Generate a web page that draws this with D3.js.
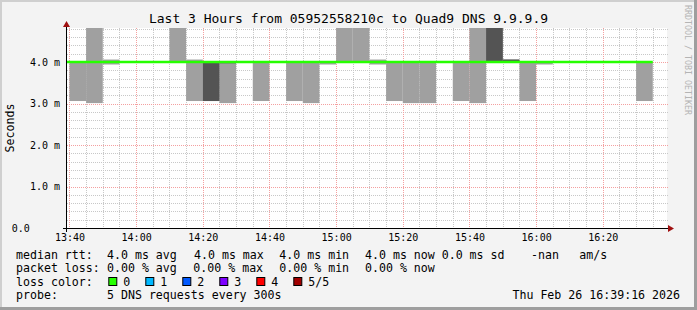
<!DOCTYPE html>
<html>
<head>
<meta charset="utf-8">
<script src="https://cdn.jsdelivr.net/npm/d3@7"></script>
<style>
    body { margin: 0; background: #f3f3f3; }
    svg text { font-family: "DejaVu Sans Mono", monospace; white-space: pre; fill: #000; }
</style>
</head>
<body>
<div id="root"></div>
<script>
// graph window (last 3 hours)
const graphStart = new Date(2026, 1, 26, 13, 39, 16)
const graphEnd = new Date(2026, 1, 26, 16, 39, 16)
const firstBucket = new Date(2026, 1, 26, 13, 35)
const stepMinutes = 5

// sorted DNS rtts per 5 min bucket, in ms (5 requests per bucket)
const pingMin    = [4, 3.06, 3.01, 3.94, 4, 4, 4, 4, 3.06, 3.06, 3.01, 4, 3.06, 4, 3.06, 3.01, 3.94, 4, 4, 3.94, 3.06, 3.01, 3.01, 4, 3.06, 3.01, 4, 4, 3.06, 3.94, 4, 4, 4, 4, 4, 3.06]
const pingLow    = [4, 4, 4, 4, 4, 4, 4, 4, 4, 3.06, 3.97, 4, 4, 4, 4, 4, 4, 4, 4, 4, 4, 4, 4, 4, 4, 4, 4, 4, 4, 4, 4, 4, 4, 4, 4, 4]
const pingMedian = [4, 4, 4, 4, 4, 4, 4, 4, 4, 4, 4, 4, 4, 4, 4, 4, 4, 4, 4, 4, 4, 4, 4, 4, 4, 4, 4, 4, 4, 4, 4, 4, 4, 4, 4, 4]
const pingHigh   = [4, 4, 4, 4, 4, 4, 4, 4, 4, 4, 4, 4, 4, 4, 4, 4, 4, 4, 4, 4, 4, 4, 4, 4, 4, 4, 5.5, 4.06, 4, 4, 4, 4, 4, 4, 4, 4]
const pingMax    = [4, 4, 5.5, 4.06, 4, 4, 4, 5.5, 4.06, 4, 4, 4, 4, 4, 4, 4, 4, 5.5, 5.5, 4.06, 4, 4, 4, 4, 4, 5.5, 5.5, 4.06, 4, 4, 4, 4, 4, 4, 4, 4]

const yTicks = [0, 1, 2, 3, 4]
const lossLabels = ['0', '1', '2', '3', '4', '5/5']
const lossColors = ['#26ff00', '#00b8ff', '#0059ff', '#7e00ff', '#ff0000', '#a00000']

const legendRtt = [['median rtt:', 16], ['4.0 ms avg', 107], ['4.0 ms max', 194], ['4.0 ms min', 279.3], ['4.0 ms now', 365], ['0.0 ms sd', 441.7], ['-nan', 531], ['am/s', 579.3]]
const legendLoss = [['packet loss:', 16], ['0.00 % avg', 107], ['0.00 % max', 193.3], ['0.00 % min', 279.3], ['0.00 % now', 365]]

const W = 697, H = 310
const plot = { left: 67, right: 667, top: 28, bottom: 228 }

const svg = d3.select('#root').append('svg')
    .attr('width', W)
    .attr('height', H)

// canvas + shaded border
svg.append('rect').attr('width', W).attr('height', H).attr('fill', '#f3f3f3')
svg.append('path').attr('d', `M1,${H} V1 H${W}`).attr('stroke', '#cfcfcf').attr('stroke-width', 2).attr('fill', 'none')
svg.append('path').attr('d', `M0,${H - 1.5} H${W - 1.5} V0`).attr('stroke', '#9e9e9e').attr('stroke-width', 3).attr('fill', 'none')

const x = d3.scaleTime().domain([graphStart, graphEnd]).range([plot.left, plot.right])
const y = d3.scaleLinear().domain([0, 4.82]).range([plot.bottom, plot.top])

svg.append('rect')
    .attr('x', plot.left).attr('y', plot.top)
    .attr('width', plot.right - plot.left).attr('height', plot.bottom - plot.top)
    .attr('fill', '#fff')

svg.append('clipPath').attr('id', 'clip')
    .append('rect')
    .attr('x', plot.left).attr('y', plot.top)
    .attr('width', plot.right - plot.left + 1).attr('height', plot.bottom - plot.top)

// grid
const grid = svg.append('g').attr('shape-rendering', 'crispEdges')
const minorY = d3.range(0.2, 4.81, 0.2).filter(v => Math.abs(v - Math.round(v)) > 0.01)
grid.selectAll('.hminor').data(minorY).enter().append('line')
    .attr('x1', plot.left).attr('x2', plot.right + 1)
    .attr('y1', d => Math.round(y(d)) + 0.5).attr('y2', d => Math.round(y(d)) + 0.5)
    .attr('stroke', '#c8c8c8').attr('stroke-dasharray', '1,1')
const minorX = x.ticks(d3.timeMinute.every(5)).filter(d => d.getMinutes() % 20 !== 0)
grid.selectAll('.vminor').data(minorX).enter().append('line')
    .attr('x1', d => Math.round(x(d)) + 0.5).attr('x2', d => Math.round(x(d)) + 0.5)
    .attr('y1', plot.top).attr('y2', plot.bottom)
    .attr('stroke', '#c8c8c8').attr('stroke-dasharray', '1,1')
grid.selectAll('.hmajor').data(yTicks.slice(1)).enter().append('line')
    .attr('x1', plot.left).attr('x2', plot.right + 1)
    .attr('y1', d => Math.round(y(d)) + 0.5).attr('y2', d => Math.round(y(d)) + 0.5)
    .attr('stroke', '#f4a0a0').attr('stroke-dasharray', '1,1')
const majorX = x.ticks(d3.timeMinute.every(20))
grid.selectAll('.vmajor').data(majorX).enter().append('line')
    .attr('x1', d => Math.round(x(d)) + 0.5).attr('x2', d => Math.round(x(d)) + 0.5)
    .attr('y1', plot.top).attr('y2', plot.bottom)
    .attr('stroke', '#f4a0a0').attr('stroke-dasharray', '1,1')

// buckets
const buckets = pingMin.map((v, i) => ({
    t0: d3.timeMinute.offset(firstBucket, i * stepMinutes),
    t1: d3.timeMinute.offset(firstBucket, (i + 1) * stepMinutes),
    min: v, low: pingLow[i], med: pingMedian[i], high: pingHigh[i], max: pingMax[i]
}))

const smoke = svg.append('g').attr('clip-path', 'url(#clip)')
smoke.selectAll('.outer').data(buckets.filter(d => d.max > d.min)).enter().append('rect')
    .attr('x', d => x(d.t0)).attr('width', d => x(d.t1) - x(d.t0))
    .attr('y', d => y(d.max)).attr('height', d => y(d.min) - y(d.max))
    .attr('fill', '#a0a0a0')
smoke.selectAll('.inner').data(buckets.filter(d => d.high > d.low)).enter().append('rect')
    .attr('x', d => x(d.t0)).attr('width', d => x(d.t1) - x(d.t0))
    .attr('y', d => y(d.high)).attr('height', d => y(d.low) - y(d.high))
    .attr('fill', '#545454')

// median line (loss 0 -> green)
const medPts = buckets.map(d => [d.t0, d.med])
medPts.push([buckets[buckets.length - 1].t1, buckets[buckets.length - 1].med])
smoke.append('path')
    .attr('d', d3.line().x(d => x(d[0])).y(d => y(d[1])).curve(d3.curveStepAfter)(medPts))
    .attr('fill', 'none').attr('stroke', lossColors[0]).attr('stroke-width', 2.6)

// axes
svg.append('line').attr('x1', plot.left - 4).attr('x2', plot.right + 2)
    .attr('y1', plot.bottom + 0.5).attr('y2', plot.bottom + 0.5)
    .attr('stroke', '#000').attr('shape-rendering', 'crispEdges')
svg.append('line').attr('x1', plot.left - 0.5).attr('x2', plot.left - 0.5)
    .attr('y1', plot.bottom + 4).attr('y2', plot.top - 2)
    .attr('stroke', '#000').attr('shape-rendering', 'crispEdges')
svg.append('path')
    .attr('d', `M${plot.right + 1},${plot.bottom - 3} L${plot.right + 7},${plot.bottom + 0.5} L${plot.right + 1},${plot.bottom + 4} Z`)
    .attr('fill', '#a01010')
svg.append('path')
    .attr('d', `M${plot.left - 4},${plot.top - 1} L${plot.left - 0.5},${plot.top - 7} L${plot.left + 3},${plot.top - 1} Z`)
    .attr('fill', '#a01010')

const xAxis = svg.append('g')
    .attr('transform', `translate(0,${plot.bottom})`)
    .call(d3.axisBottom(x).ticks(d3.timeMinute.every(20)).tickFormat(d3.timeFormat('%H:%M')).tickSize(0).tickPadding(0))
xAxis.select('.domain').remove()
xAxis.selectAll('text').attr('dy', null).attr('y', 13)
    .style('font-size', '10px').attr('fill', '#000')

const yAxis = svg.append('g')
    .attr('transform', `translate(60,0)`)
    .call(d3.axisLeft(y).tickValues(yTicks).tickFormat(d => d === 0 ? '0.0     ' : d.toFixed(1) + ' m').tickSize(0).tickPadding(0))
yAxis.select('.domain').remove()
yAxis.selectAll('text').style('font-size', '10px').attr('fill', '#000')

// title, axis label, watermark
svg.append('text').attr('x', W / 2).attr('y', 23).attr('text-anchor', 'middle')
    .style('font-size', '13px')
    .text('Last 3 Hours from 05952558210c to Quad9 DNS 9.9.9.9')
svg.append('text').attr('transform', 'translate(14,128) rotate(-90)').attr('text-anchor', 'middle')
    .style('font-size', '11.6px')
    .text('Seconds')
svg.append('text').attr('transform', 'translate(684.5,5) rotate(90)')
    .style('font-size', '8.3px').style('fill', '#b4b4b4')
    .text('RRDTOOL / TOBI OETIKER')

// legend
const legend = svg.append('g').style('font-size', '11.6px')
legend.selectAll('.rtt').data(legendRtt).enter().append('text')
    .attr('x', d => d[1]).attr('y', 258.5).text(d => d[0])
legend.selectAll('.loss').data(legendLoss).enter().append('text')
    .attr('x', d => d[1]).attr('y', 272).text(d => d[0])
legend.append('text').attr('x', 16).attr('y', 285.7).text('loss color:')
const sw = legend.selectAll('.sw').data(lossLabels).enter().append('g')
    .attr('transform', (d, i) => `translate(${108.3 + i * 37},277)`)
sw.append('rect').attr('x', 0.5).attr('y', 0.5).attr('width', 8).attr('height', 8)
    .attr('fill', (d, i) => lossColors[i]).attr('stroke', '#000').attr('stroke-width', 1)
sw.append('text').attr('x', 15).attr('y', 8.7).text(d => d)
legend.append('text').attr('x', 16).attr('y', 299.3).text('probe:')
legend.append('text').attr('x', 107).attr('y', 299.3).text('5 DNS requests every 300s')
legend.append('text').attr('x', 680).attr('y', 299.3).attr('text-anchor', 'end').text('Thu Feb 26 16:39:16 2026')
</script>
</body>
</html>
